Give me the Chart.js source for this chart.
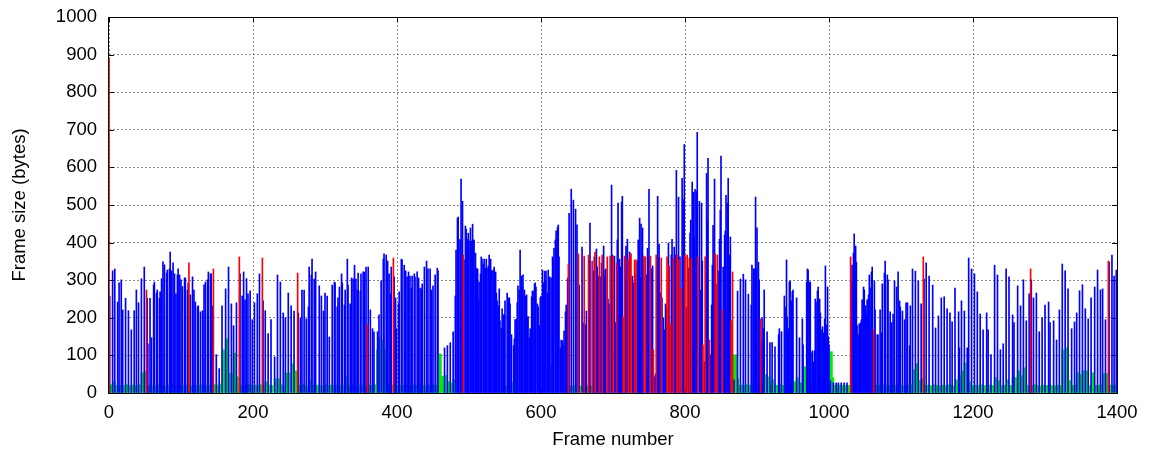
<!DOCTYPE html>
<html>
<head>
<meta charset="utf-8">
<script src="https://cdn.jsdelivr.net/npm/chart.js@4.4.1/dist/chart.umd.min.js"></script>
<style>
  html, body { margin: 0; padding: 0; background: #fff; }
  canvas { display: block; }
</style>
</head>
<body>
<canvas id="chart" width="1153" height="455"></canvas>
<script>
// each entry: [frame number, frame size in bytes]
// I frames (red)
const iFrames = [
  [0,890],[52,274],[111,346],[145,330],[181,362],[213,359],[262,319],[359,181],[395,359],[492,367],
  [638,343],[652,370],[660,364],[666,367],[671,351],[675,375],[681,362],[685,367],[692,362],[696,364],
  [700,364],[705,346],[714,202],[716,364],[721,356],[724,370],[725,370],[730,354],[732,354],[743,364],
  [745,362],[752,364],[756,115],[760,367],[767,359],[775,362],[778,338],[780,184],[784,359],[789,367],
  [792,354],[795,279],[800,367],[803,367],[806,359],[809,356],[818,362],[825,128],[828,362],[834,141],
  [842,370],[845,367],[852,221],[864,192],[866,322],[905,197],[1030,362],[1062,168],[1131,362],[1280,330],
  [1388,351]
];

// P frames (blue)
const pFrames = [
  [1,258],[5,325],[8,330],[12,242],[14,293],[17,301],[19,221],[23,252],[27,219],[31,168],[35,219],[38,274],
  [41,240],[45,304],[49,335],[53,252],[54,131],[57,252],[59,147],[62,288],[63,295],[66,266],[67,274],[70,252],
  [71,269],[73,304],[75,349],[77,341],[80,319],[81,327],[84,330],[85,375],[87,325],[89,346],[91,317],[93,264],
  [95,314],[96,330],[98,314],[100,301],[102,283],[105,306],[106,306],[109,274],[110,293],[113,261],[116,309],
  [118,274],[120,242],[123,229],[124,232],[127,216],[130,219],[132,288],[134,295],[137,301],[138,322],[141,317],
  [142,317],[144,232],[149,102],[153,65],[157,232],[162,277],[166,335],[170,237],[173,179],[177,240],[182,317],
  [185,258],[187,322],[189,248],[191,304],[193,264],[196,272],[199,195],[202,240],[206,264],[209,317],[214,245],
  [217,219],[221,158],[225,195],[230,96],[234,314],[238,295],[242,213],[245,200],[249,266],[253,232],[257,218],
  [263,213],[266,200],[268,274],[271,274],[274,197],[277,229],[278,335],[281,314],[282,356],[285,303],[287,322],
  [292,285],[295,258],[298,218],[300,266],[303,258],[306,149],[310,287],[313,295],[314,293],[317,229],[318,253],
  [320,282],[323,317],[324,293],[327,234],[328,274],[331,356],[332,287],[335,237],[337,306],[339,303],[341,340],
  [343,303],[345,274],[346,319],[349,271],[350,317],[353,322],[355,322],[357,335],[360,335],[363,221],[366,171],
  [368,163],[373,163],[375,208],[378,298],[381,356],[382,370],[385,367],[387,351],[389,317],[391,263],[392,335],
  [396,309],[398,253],[399,171],[402,237],[403,269],[406,356],[407,354],[410,340],[412,325],[414,309],[416,322],
  [418,311],[420,279],[421,311],[424,317],[425,309],[428,322],[430,306],[432,279],[434,277],[435,290],[438,335],
  [441,351],[443,330],[446,330],[448,274],[450,285],[453,314],[456,332],[457,325],[466,120],[470,126],[474,134],
  [478,163],[481,258],[482,380],[484,465],[485,468],[486,409],[488,407],[489,569],[491,510],[493,354],[495,444],
  [496,436],[498,409],[499,425],[500,404],[502,439],[503,404],[505,449],[506,407],[507,407],[509,372],[510,332],
  [512,330],[513,245],[514,295],[516,317],[517,362],[518,356],[520,343],[521,356],[523,332],[524,356],[525,332],
  [527,338],[528,367],[530,356],[531,327],[532,324],[534,327],[535,335],[537,322],[538,266],[539,245],[541,232],
  [542,277],[543,192],[545,171],[546,224],[548,208],[549,208],[550,245],[553,266],[555,253],[556,253],[557,237],
  [559,155],[562,126],[563,144],[564,195],[566,197],[567,240],[568,285],[570,274],[571,380],[573,311],[574,282],
  [575,314],[577,274],[578,258],[580,261],[581,200],[582,203],[584,147],[585,171],[587,256],[588,271],[589,271],
  [591,290],[592,293],[593,282],[595,237],[596,229],[598,179],[599,253],[600,258],[602,327],[603,293],[605,324],
  [606,301],[607,324],[609,266],[610,327],[612,309],[614,306],[616,362],[617,356],[618,385],[620,407],[621,431],
  [623,441],[624,447],[625,362],[627,120],[628,141],[630,139],[631,126],[632,165],[634,216],[635,234],[637,306],
  [639,478],[642,542],[645,513],[648,489],[650,447],[653,287],[657,388],[659,187],[662,181],[663,218],[667,351],
  [668,452],[673,324],[674,362],[677,383],[678,335],[680,311],[682,309],[684,346],[687,391],[688,309],[689,327],
  [690,330],[693,250],[695,237],[698,553],[699,367],[702,364],[703,187],[706,407],[707,505],[709,356],[710,335],
  [712,508],[713,523],[717,301],[718,391],[720,409],[723,375],[727,311],[728,293],[731,314],[734,351],[735,407],
  [737,465],[738,306],[739,449],[741,439],[742,356],[746,314],[748,385],[749,359],[750,542],[753,330],[755,338],
  [757,43],[759,51],[762,523],[763,359],[764,396],[766,266],[768,253],[770,200],[771,168],[773,237],[774,227],
  [777,399],[781,367],[782,409],[785,388],[787,367],[788,592],[791,521],[793,362],[796,571],[798,515],[799,661],
  [802,227],[805,333],[807,425],[808,460],[810,561],[812,534],[813,415],[814,542],[816,537],[817,693],[820,510],
  [821,274],[823,505],[824,351],[827,83],[830,584],[831,457],[832,624],[835,102],[837,234],[838,340],[839,446],
  [841,569],[843,290],[846,324],[848,409],[849,486],[850,630],[853,335],[855,420],[856,431],[857,526],[859,505],
  [860,571],[862,367],[863,415],[868,35],[873,271],[877,303],[881,316],[884,301],[888,263],[892,234],[893,340],
  [895,330],[896,330],[898,521],[899,330],[900,439],[902,348],[903,301],[906,137],[907,200],[909,173],[910,274],
  [914,163],[918,134],[921,134],[925,123],[930,155],[931,171],[934,163],[938,258],[939,229],[941,354],[942,202],
  [944,171],[945,295],[946,298],[948,245],[949,269],[950,274],[955,253],[959,147],[963,197],[964,128],[969,295],
  [970,330],[971,327],[973,295],[974,295],[975,107],[977,112],[978,83],[980,112],[981,250],[982,242],[984,271],
  [985,282],[987,250],[988,213],[989,168],[991,176],[992,160],[994,197],[995,338],[996,181],[998,282],[999,149],
  [1000,128],[1002,33],[1006,27],[1010,27],[1013,27],[1017,27],[1021,27],[1025,27],[1031,298],[1032,340],
  [1034,372],[1035,423],[1037,391],[1038,348],[1039,179],[1041,155],[1042,184],[1044,187],[1045,195],[1046,248],
  [1048,282],[1049,274],[1051,232],[1052,210],[1053,248],[1055,261],[1056,314],[1057,279],[1059,322],[1060,335],
  [1063,298],[1064,221],[1067,155],[1068,155],[1071,221],[1073,160],[1074,290],[1077,319],[1078,351],[1081,314],
  [1082,301],[1085,216],[1087,187],[1089,210],[1091,298],[1094,282],[1096,322],[1098,245],[1099,229],[1102,218],
  [1105,195],[1107,240],[1109,240],[1112,126],[1113,232],[1116,330],[1120,324],[1124,298],[1128,237],[1132,303],
  [1135,346],[1139,311],[1144,287],[1148,173],[1152,205],[1156,253],[1160,256],[1164,224],[1168,213],[1171,189],
  [1175,279],[1180,216],[1181,120],[1184,245],[1188,218],[1192,120],[1194,359],[1198,330],[1202,317],[1206,269],
  [1210,210],[1214,168],[1219,213],[1221,168],[1225,102],[1230,340],[1234,314],[1238,115],[1242,131],[1246,330],
  [1250,309],[1255,208],[1257,187],[1262,285],[1266,232],[1270,301],[1274,192],[1278,264],[1281,301],[1284,253],
  [1288,266],[1292,163],[1296,200],[1300,234],[1305,242],[1307,187],[1312,192],[1316,141],[1320,221],[1324,343],
  [1328,325],[1332,277],[1337,171],[1341,189],[1344,213],[1348,272],[1352,288],[1356,224],[1360,197],[1364,253],
  [1369,282],[1373,327],[1377,274],[1380,277],[1384,195],[1389,348],[1393,367],[1396,311],[1399,327]
];

// B frames (green)
const bFrames = [
  [0,20],[3,22],[7,30],[10,20],[14,19],[18,21],[22,20],[26,22],[30,19],[34,21],[38,20],[42,22],[46,53],[50,57],
  [54,20],[58,21],[62,19],[66,20],[70,22],[74,20],[78,19],[82,21],[86,20],[90,22],[94,20],[98,19],[102,21],
  [106,20],[110,22],[114,19],[118,21],[122,20],[126,20],[130,22],[134,19],[138,21],[142,20],[146,22],[150,20],
  [154,24],[159,115],[163,144],[167,53],[171,51],[174,106],[176,35],[178,43],[182,20],[186,21],[190,19],[194,22],
  [198,20],[202,21],[206,20],[210,22],[214,19],[218,30],[222,21],[226,20],[231,38],[235,38],[239,22],[243,20],
  [246,53],[250,53],[255,78],[259,59],[262,21],[266,20],[270,22],[274,19],[280,33],[284,20],[288,21],[292,20],
  [296,19],[300,22],[304,20],[308,21],[312,20],[316,22],[320,19],[324,21],[330,43],[334,20],[338,22],[342,19],
  [346,21],[350,20],[354,22],[358,20],[362,21],[366,20],[370,22],[373,115],[375,149],[380,141],[384,115],[388,21],
  [392,20],[396,22],[400,19],[404,21],[408,20],[412,22],[416,20],[420,19],[424,21],[428,20],[432,22],[436,20],
  [440,19],[444,21],[448,20],[452,22],[456,20],[460,104],[463,44],[467,47],[471,30],[475,26],[479,35],
  [552,19],[560,28],[613,73],[641,19],[644,19],[647,19],[655,19],[665,19],[670,19],
  [867,101],[870,102],[873,38],[876,20],[879,21],[882,20],[885,22],[889,20],[891,21],[894,20],[897,22],[901,20],
  [905,19],[908,21],[912,49],[915,43],[919,20],[922,35],[926,21],[929,20],[933,22],[936,20],[940,19],[943,21],
  [947,20],[952,30],[956,41],[961,27],[966,70],[968,20],[972,21],[976,20],[980,22],[984,20],[988,19],[992,21],
  [996,20],[1003,110],[1005,41],[1007,19],[1009,20],[1011,19],[1013,20],[1015,21],[1017,19],[1019,20],[1021,20],
  [1023,19],[1025,21],[1027,20],[1029,19],
  [1066,20],[1070,21],[1072,20],[1076,22],[1080,20],[1084,19],[1088,21],[1092,20],[1095,22],[1100,20],[1104,19],
  [1108,21],[1111,20],[1114,22],[1118,62],[1122,78],[1126,33],[1130,38],[1134,20],[1137,21],[1141,20],[1146,22],
  [1150,20],[1154,19],[1158,21],[1162,20],[1166,22],[1170,20],[1173,19],[1177,35],[1181,46],[1185,59],[1189,80],
  [1195,30],[1199,20],[1203,21],[1207,20],[1211,22],[1215,20],[1219,19],[1223,21],[1227,20],[1231,41],[1235,33],
  [1240,20],[1244,21],[1248,35],[1252,20],[1256,41],[1259,41],[1263,59],[1267,46],[1271,67],[1275,20],[1279,21],
  [1283,20],[1286,22],[1290,20],[1294,19],[1298,21],[1302,20],[1306,22],[1310,20],[1314,19],[1318,21],[1322,20],
  [1325,115],[1330,120],[1334,33],[1338,20],[1342,21],[1345,54],[1349,49],[1353,59],[1357,59],[1362,20],[1366,54],
  [1370,21],[1374,20],[1378,22],[1381,51],[1385,51],[1389,20],[1392,21],[1396,20],[1400,22]
];

const xTicks = [0, 200, 400, 600, 800, 1000, 1200, 1400];
const yTicks = [0, 100, 200, 300, 400, 500, 600, 700, 800, 900, 1000];

const toPoints = (list) => list.map(p => ({x: p[0], y: p[1]}));
const tickFont = {family: "'Liberation Sans', Arial, sans-serif", size: 18.5};

//caja negra y marcas hacia adentro, como gnuplot
const frameBox = {
  id: 'frameBox',
  beforeDatasetsDraw(chart) {
    const {ctx, chartArea: a, scales: {x, y}} = chart;
    ctx.save();
    ctx.strokeStyle = '#000';
    ctx.lineWidth = 1;
    ctx.strokeRect(a.left - 0.5, a.top + 0.5, a.right - a.left + 1, a.bottom - a.top);
    ctx.beginPath();
    yTicks.forEach(v => {
      const py = Math.round(y.getPixelForValue(v)) + 0.5;
      ctx.moveTo(a.left, py); ctx.lineTo(a.left + 5, py);
      ctx.moveTo(a.right, py); ctx.lineTo(a.right - 5, py);
    });
    xTicks.forEach(v => {
      const px = Math.round(x.getPixelForValue(v)) + 0.5;
      ctx.moveTo(px, a.bottom); ctx.lineTo(px, a.bottom - 5);
      ctx.moveTo(px, a.top); ctx.lineTo(px, a.top + 5);
    });
    ctx.stroke();
    ctx.restore();
  }
};

const barStyle = {barThickness: 1, grouped: false, borderWidth: 0};

new Chart(document.getElementById('chart'), {
  type: 'bar',
  data: {
    datasets: [
      Object.assign({label: 'I', data: toPoints(iFrames), backgroundColor: '#ff0000', order: 1}, barStyle),
      Object.assign({label: 'P', data: toPoints(pFrames), backgroundColor: '#0000ff', order: 2}, barStyle),
      Object.assign({label: 'B', data: toPoints(bFrames), backgroundColor: '#00ee00', order: 3}, barStyle, {barThickness: 2.5})
    ]
  },
  options: {
    responsive: false,
    animation: false,
    layout: {padding: {left: 0, right: 36, top: 17, bottom: 0}},
    plugins: {legend: {display: false}, tooltip: {enabled: false}},
    scales: {
      x: {
        type: 'linear', min: 0, max: 1400, offset: false,
        afterBuildTicks: s => { s.ticks = xTicks.map(v => ({value: v})); },
        afterFit: s => { s.height = 62; },
        grid: {offset: false, color: '#8a8a8a', lineWidth: 1, drawTicks: false},
        border: {display: false, dash: [2, 2]},
        ticks: {color: '#000', font: tickFont, padding: 9, maxRotation: 0, callback: v => String(v)},
        title: {display: true, text: 'Frame number', color: '#000', font: tickFont, padding: {top: 0, bottom: 4}}
      },
      y: {
        min: 0, max: 1000,
        afterBuildTicks: s => { s.ticks = yTicks.map(v => ({value: v})); },
        afterFit: s => { s.width = 109; },
        // la separacion de las etiquetas va como marca invisible
        grid: {color: '#8a8a8a', lineWidth: 1, drawTicks: true, tickLength: 12, tickColor: 'rgba(0,0,0,0)'},
        border: {display: false, dash: [2, 2]},
        ticks: {color: '#000', font: tickFont, padding: 0, callback: v => String(v)},
        title: {display: true, text: 'Frame size (bytes)', color: '#000', font: tickFont, padding: {top: 9, bottom: 0}}
      }
    }
  },
  plugins: [frameBox]
});
</script>
</body>
</html>
